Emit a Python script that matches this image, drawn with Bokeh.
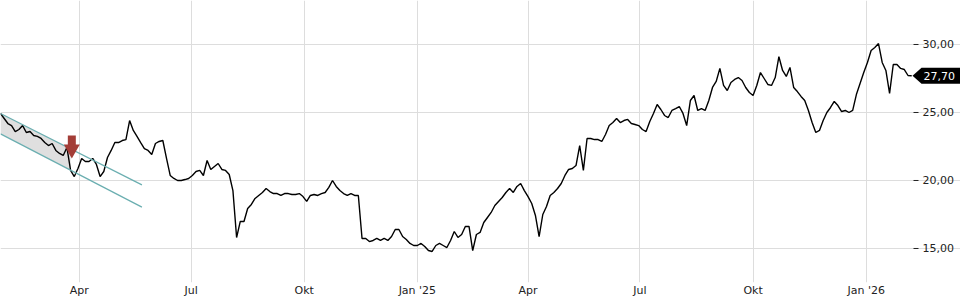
import numpy as np
import pandas as pd
from bokeh.plotting import figure
from bokeh.models import Range1d, FixedTicker
from bokeh.core.properties import value
from bokeh.embed import file_html
from bokeh.resources import INLINE

# ---------------- data ----------------
start_date = "2024-01-28"
step_days = 3
prices = [
    24.93, 24.56, 24.19, 24.04, 23.60, 23.75, 24.04, 23.53, 23.60, 23.31,
    23.24, 23.09, 22.79, 22.57, 22.72, 22.21, 21.99, 21.84, 22.43, 20.74,
    20.29, 20.88, 21.62, 21.40, 21.40, 21.62, 21.18, 20.29, 20.66, 21.69,
    22.21, 22.79, 22.79, 22.94, 23.01, 24.41, 23.68, 23.24, 22.79, 22.35,
    22.21, 21.91, 22.72, 22.87, 22.94, 21.62, 20.37, 20.15, 20.00, 20.00,
    20.07, 20.15, 20.37, 20.66, 20.74, 20.37, 21.47, 20.81, 21.03, 21.25,
    20.81, 20.74, 20.44, 19.26, 15.81, 16.99, 16.99, 17.94, 18.24, 18.68,
    18.90, 19.12, 19.41, 19.19, 19.04, 19.04, 18.90, 19.04, 19.04, 18.97,
    18.97, 19.04, 18.82, 18.46, 18.90, 18.97, 18.90, 19.04, 19.12, 19.49,
    20.00, 19.56, 19.26, 19.04, 18.90, 19.04, 18.90, 18.90, 15.74, 15.74,
    15.51, 15.59, 15.74, 15.59, 15.74, 15.59, 15.88, 16.40, 16.40, 15.88,
    15.66, 15.37, 15.22, 15.22, 15.37, 15.15, 14.85, 14.78, 15.22, 15.37,
    15.22, 15.07, 15.59, 16.25, 15.81, 16.03, 16.62, 16.62, 14.85, 16.03,
    16.18, 16.91, 17.28, 17.65, 18.16, 18.46, 18.75, 19.12, 19.41, 19.12,
    19.56, 19.78, 19.26, 18.82, 18.31, 17.43, 15.88, 17.50, 18.09, 18.90,
    19.12, 19.41, 19.78, 20.37, 20.81, 20.88, 21.10, 22.57, 20.74, 23.09,
    23.09, 23.01, 23.01, 22.87, 23.38, 24.04, 24.26, 24.56, 24.26, 24.41,
    24.49, 24.19, 24.12, 24.04, 23.75, 23.60, 24.34, 24.93, 25.59, 25.22,
    24.78, 24.63, 25.15, 25.29, 25.44, 24.93, 24.04, 25.88, 26.25, 25.15,
    25.29, 25.15, 25.88, 26.84, 27.28, 28.24, 26.99, 26.62, 27.21, 27.43,
    27.57, 27.35, 26.84, 26.47, 26.25, 26.99, 27.94, 27.50, 27.06, 26.99,
    27.57, 29.10, 28.09, 27.65, 28.31, 26.84, 26.54, 26.18, 25.88, 25.15,
    24.26, 23.53, 23.68, 24.41, 25.00, 25.37, 25.81, 25.51, 25.07, 25.15,
    25.00, 25.15, 26.32, 27.13, 27.94, 28.68, 29.56, 29.78, 30.07, 28.68,
    28.09, 26.40, 28.53, 28.53, 28.24, 28.16, 27.72, 27.70,
]
last_price_label = "27,70"

x_tick_dates = ["2024-04-01", "2024-07-01", "2024-10-01", "2025-01-01",
                "2025-04-01", "2025-07-01", "2025-10-01", "2026-01-01"]
x_tick_labels = ["Apr", "Jul", "Okt", "Jan '25", "Apr", "Jul", "Okt", "Jan '26"]
y_ticks = [15, 20, 25, 30]
y_tick_labels = ["15,00", "20,00", "25,00", "30,00"]

# trend channel
channel_dates = ["2024-01-28", "2024-05-22"]
channel_upper = [24.93, 19.68]
channel_lower = [23.43, 18.04]
channel_fill_end = "2024-03-25"

# sell signal arrow
signal_date = "2024-03-26"
signal_shaft_top = 23.31
signal_shaft_bottom = 22.45
signal_head_center = 22.30

# ---------------- layout constants ----------------
W, H = 960, 300
FRAME_H = 282            # x axis labels below the frame
PLOT_RIGHT = 913         # right edge of the price area; price scale to its right
view_start = pd.Timestamp("2024-01-28")
px_per_day = 1.2297
y_min, y_max = 12.5, 33.235
px_per_unit = FRAME_H / (y_max - y_min)


def px_to_date(px):
    return view_start + pd.Timedelta(days=px / px_per_day)


def ms(ts):
    return float(pd.Timestamp(ts).value // 10**6)


x0 = view_start
x1 = px_to_date(W)

p = figure(width=W, height=H, x_axis_type="datetime", y_axis_location=None,
           output_backend="svg", toolbar_location=None,
           x_range=Range1d(x0, x1), y_range=Range1d(y_min, y_max),
           min_border_left=0, min_border_top=0, min_border_right=0,
           min_border_bottom=H - FRAME_H)
p.outline_line_color = None
p.background_fill_color = "white"
p.border_fill_color = "white"

FONT = "DejaVu Sans"
TXT = "#222222"
tick_ms = [ms(d) for d in x_tick_dates]
p.xaxis.ticker = FixedTicker(ticks=tick_ms)
p.xaxis.major_label_overrides = {t: l for t, l in zip(tick_ms, x_tick_labels)}
p.xaxis.axis_line_color = None
p.xaxis.major_tick_out = 0
p.xaxis.major_tick_in = 0
p.xaxis.minor_tick_line_color = None
p.xaxis.major_label_standoff = 1
p.xaxis.major_label_text_font = FONT
p.xaxis.major_label_text_font_size = "11px"
p.xaxis.major_label_text_color = TXT
p.xgrid.grid_line_color = "#dddddd"

# horizontal grid limited to the price area
p.ygrid.grid_line_color = "#dddddd"
p.ygrid.ticker = FixedTicker(ticks=y_ticks)
p.ygrid.bounds = (ms(x0), ms(px_to_date(PLOT_RIGHT - 1)))

# price scale (right): dashes + labels
p.segment(x0=[px_to_date(PLOT_RIGHT)] * len(y_ticks), x1=[px_to_date(PLOT_RIGHT + 5)] * len(y_ticks),
          y0=y_ticks, y1=y_ticks, line_color=TXT, line_width=1)
p.text(x=[px_to_date(PLOT_RIGHT + 9)] * len(y_ticks), y=y_ticks, text=y_tick_labels,
       text_font=value(FONT), text_font_size="11px", text_color=TXT,
       text_align="left", text_baseline="middle")

# channel shading
cd = pd.to_datetime(channel_dates)
cd_ms = [ms(d) for d in cd]
fe = pd.Timestamp(channel_fill_end)
up_end = float(np.interp(ms(fe), cd_ms, channel_upper))
lo_end = float(np.interp(ms(fe), cd_ms, channel_lower))
p.patch(x=[cd[0], fe, fe, cd[0]], y=[channel_upper[0], up_end, lo_end, channel_lower[0]],
        fill_color="#d9d9d9", fill_alpha=0.85, line_color=None)

# price line
dates = pd.date_range(start_date, periods=len(prices), freq=f"{step_days}D")
p.line(dates, prices, line_color="black", line_width=1.4)

# channel lines
p.line(cd, channel_upper, line_color="#6aaeb0", line_width=1.2)
p.line(cd, channel_lower, line_color="#6aaeb0", line_width=1.2)

# signal arrow
sd = pd.Timestamp(signal_date)
arrow_color = "#a33d37"
p.rect(x=[sd], y=[(signal_shaft_top + signal_shaft_bottom) / 2], width=8,
       height=signal_shaft_top - signal_shaft_bottom, width_units="screen",
       height_units="data", fill_color=arrow_color, line_color=None)
p.scatter(x=[sd], y=[signal_head_center], marker="inverted_triangle", size=16,
          fill_color=arrow_color, line_color=None)

# last price tag
last = prices[-1]
hh = 8 / px_per_unit
p.patch(x=[px_to_date(PLOT_RIGHT - 1), px_to_date(PLOT_RIGHT + 8), px_to_date(W),
           px_to_date(W), px_to_date(PLOT_RIGHT + 8)],
        y=[last, last + hh, last + hh, last - hh, last - hh],
        fill_color="black", line_color=None)
p.text(x=[px_to_date(PLOT_RIGHT + 10)], y=[last], text=[last_price_label],
       text_font=value(FONT), text_font_size="11px", text_color="white",
       text_align="left", text_baseline="middle")

open("out.html", "w").write(file_html(p, INLINE))
